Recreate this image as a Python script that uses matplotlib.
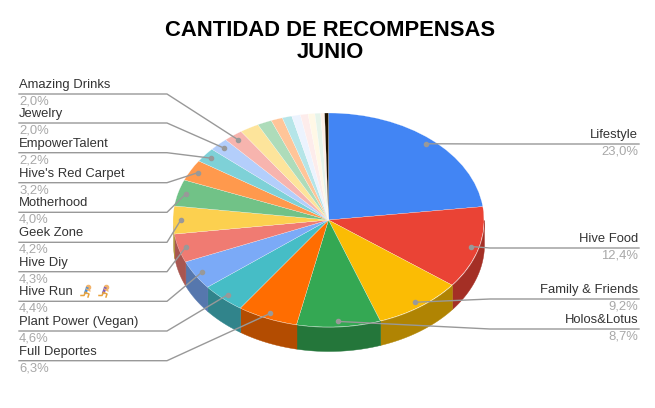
import numpy as np
from matplotlib import pyplot as plt
from matplotlib.colors import to_rgb

plt.rcParams['font.family'] = ['Liberation Sans', 'DejaVu Sans']

# valores de cada porcion, en sentido horario desde arriba
values = [23.0, 12.4, 9.2, 8.7, 6.3, 4.6, 4.4, 4.3, 4.2, 4.0, 3.2, 2.2, 2.0, 2.0,
          2.0, 1.5, 1.2, 1.0, 0.9, 0.8, 0.7, 0.6, 0.4, 0.4]
colors = ['#4285f4', '#ea4335', '#fbbc04', '#34a853', '#ff6d01', '#46bdc6', '#7baaf7',
          '#f07b72', '#fcd04f', '#71c287', '#ff994d', '#7ed1d7', '#b3cefb', '#f7b4ae',
          '#fde49b', '#aedcba', '#ffc599', '#b5e5e8', '#ecf3fe', '#fdeceb',
          '#fff8e6', '#e6f4ea', '#fff0e6', '#1f1300']

names = ['Lifestyle', 'Hive Food', 'Family & Friends', 'Holos&Lotus', 'Full Deportes',
         'Plant Power (Vegan)', 'Hive Run', 'Hive Diy', 'Geek Zone', 'Motherhood',
         "Hive's Red Carpet", 'EmpowerTalent', 'Jewelry', 'Amazing Drinks']
percents = ['23,0%', '12,4%', '9,2%', '8,7%', '6,3%', '4,6%', '4,4%', '4,3%', '4,2%',
            '4,0%', '3,2%', '2,2%', '2,0%', '2,0%']
line_y = [144, 248, 299, 329, 360.7, 331, 301.3, 271.7, 242.3, 212.3, 182.7, 152.7, 123, 94]

W, H = 655, 408
cx, cy, rx, ry, depth = 328.5, 220, 155.5, 107, 24

fig = plt.figure(figsize=(W / 100, H / 100), dpi=100)

# ejes de la tarta: la elipse sale de un aspecto no igual
ax = fig.add_axes([(cx - rx) / W, 1 - (cy + ry + depth) / H, 2 * rx / W, (2 * ry + depth) / H])
bottom = -1 - depth / ry

edges = np.cumsum([0] + values) / sum(values) * 2 * np.pi
for i, col in enumerate(colors):
    a0 = max(edges[i], np.pi / 2)
    a1 = min(edges[i + 1], 3 * np.pi / 2)
    if a1 <= a0:
        continue
    t = np.linspace(a0, a1, 40)
    x = np.sin(t)
    y = np.cos(t)
    dark = tuple(c * 0.7 for c in to_rgb(col))
    ax.fill_between(x, y, y - depth / ry, color=dark, lw=0.3, zorder=1)

wedges, _ = ax.pie(values, colors=colors, startangle=90, counterclock=False, radius=1,
                   wedgeprops={'linewidth': 0.15, 'edgecolor': '#ffffff', 'zorder': 2})
ax.set_aspect('auto')
ax.set_xlim(-1, 1)
ax.set_ylim(bottom, 1)
ax.axis('off')

# capa de textos y lineas en pixeles
ov = fig.add_axes([0, 0, 1, 1], facecolor='none')
ov.set_xlim(0, W)
ov.set_ylim(H, 0)
ov.axis('off')

ov.text(330.5, 30.5, 'CANTIDAD DE RECOMPENSAS', ha='center', va='center',
        fontsize=15.8, fontweight='bold', color='#000000')
ov.text(330.5, 52.5, 'JUNIO', ha='center', va='center',
        fontsize=15.8, fontweight='bold', color='#000000')

mids = (edges[:-1] + edges[1:]) / 2
for i in range(len(names)):
    dot_x = cx + 0.95 * rx * np.sin(mids[i])
    dot_y = cy - 0.95 * ry * np.cos(mids[i])
    ly = line_y[i]
    if i < 4:
        ov.plot([dot_x, 490, 639], [dot_y, ly, ly], color='#999999', lw=1, zorder=3)
        tx, ha = 638, 'right'
    else:
        ov.plot([dot_x, 167, 19], [dot_y, ly, ly], color='#999999', lw=1, zorder=3)
        tx, ha = 19, 'left'
    ov.plot(dot_x, dot_y, 'o', color='#999999', ms=3, zorder=4)
    ov.text(tx, ly - 9, names[i], ha=ha, va='center', fontsize=9.4, color='#333333')
    ov.text(tx, ly + 7.5, percents[i], ha=ha, va='center', fontsize=9.4, color='#a8a8a8')

# los dos corredores junto a Hive Run
for rx0, shirt in [(86, '#4a90d9'), (104, '#7a5cc0')]:
    ry0 = 292
    ov.plot(rx0 + 1.5, ry0 - 5, 'o', color='#f2b36b', ms=3)
    ov.plot([rx0 + 1, rx0 - 0.5], [ry0 - 3.5, ry0 + 0.5], color=shirt, lw=2)
    ov.plot([rx0 - 0.5, rx0 + 3, rx0 + 2], [ry0 + 0.5, ry0 + 2, ry0 + 5], color='#e8a23c', lw=1.1)
    ov.plot([rx0 - 0.5, rx0 - 2, rx0 - 5], [ry0 + 0.5, ry0 + 3.5, ry0 + 3.5], color='#e8a23c', lw=1.1)
    ov.plot([rx0 + 0.5, rx0 + 4], [ry0 - 3, ry0 - 1], color='#f2b36b', lw=0.9)

fig.savefig('out.png', dpi=100, facecolor='white')
